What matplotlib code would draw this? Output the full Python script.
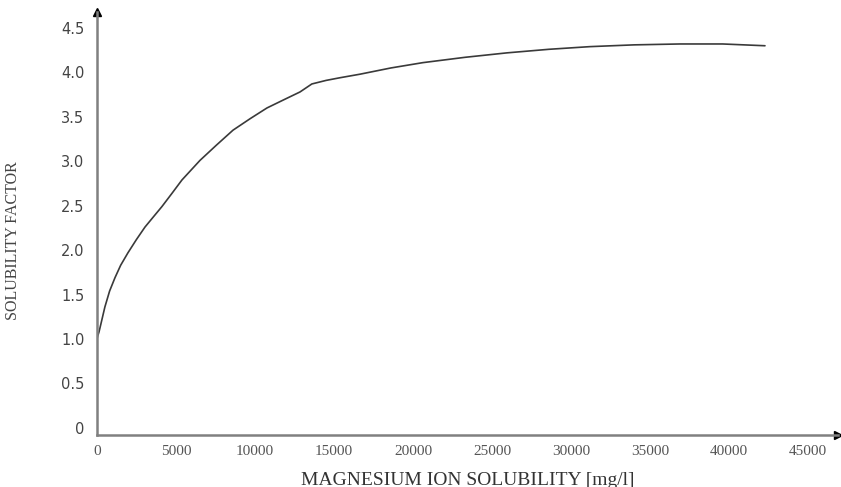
import matplotlib
matplotlib.use("Agg")
import matplotlib.pyplot as plt  # noqa: E402
from matplotlib.ticker import FixedLocator, FixedFormatter  # noqa: E402

# magnesium ion solubility [mg/l] vs solubility factor
mg_ion = [0, 60, 130, 250, 500, 800, 1140, 1500, 1960, 2500, 3040, 3550,
          4110, 4750, 5380, 5950, 6520, 7550, 8610, 9700, 10760, 11800,
          12850, 13600, 14500, 15380, 16650, 18600, 20630, 23300, 25950,
          28600, 31200, 34000, 36900, 39600, 42280]
factor = [1.00, 1.04, 1.08, 1.17, 1.36, 1.54, 1.69, 1.83, 1.97, 2.12, 2.26,
          2.37, 2.49, 2.64, 2.79, 2.90, 3.01, 3.18, 3.35, 3.48, 3.60, 3.69,
          3.78, 3.87, 3.91, 3.94, 3.98, 4.05, 4.11, 4.17, 4.22, 4.26, 4.29,
          4.31, 4.32, 4.32, 4.30]

x_ticks = [0, 5000, 10000, 15000, 20000, 25000, 30000, 35000, 40000, 45000]
y_ticks = [0, 0.5, 1.0, 1.5, 2.0, 2.5, 3.0, 3.5, 4.0, 4.5]
y_tick_labels = ["0", "0.5", "1.0", "1.5", "2.0", "2.5", "3.0", "3.5", "4.0", "4.5"]

fig = plt.figure(figsize=(8.41, 4.87), dpi=100)
ax = fig.add_axes([0.1153, 0.1068, 0.8811, 0.8686])

ax.plot(mg_ion, factor, color="#3a3a3a", lw=1.2,
        solid_joinstyle="round", solid_capstyle="round")

ax.set_xlim(0, 46900)
ax.set_ylim(-0.08, 4.68)

for side in ("top", "right"):
    ax.spines[side].set_visible(False)
for side in ("left", "bottom"):
    ax.spines[side].set_color("#808080")
    ax.spines[side].set_linewidth(1.8)

# arrow heads at the ends of both axes
ax.plot(1, 0, ">", color="black", ms=6, transform=ax.transAxes, clip_on=False)
ax.plot(0, 1, "^", color="black", ms=6, transform=ax.transAxes, clip_on=False)

ax.xaxis.set_major_locator(FixedLocator(x_ticks))
ax.yaxis.set_major_locator(FixedLocator(y_ticks))
ax.yaxis.set_major_formatter(FixedFormatter(y_tick_labels))
ax.tick_params(axis="both", length=0)
ax.tick_params(axis="y", pad=9, labelcolor="#444444")
ax.tick_params(axis="x", pad=7, labelcolor="#555555")
for lbl in ax.get_yticklabels():
    lbl.set_family("DejaVu Sans")
    lbl.set_fontsize(10.5)
for lbl in ax.get_xticklabels():
    lbl.set_family("Liberation Serif")
    lbl.set_fontsize(11)

ax.set_xlabel("MAGNESIUM ION SOLUBILITY [mg/l]", family="Liberation Serif",
              fontsize=14, color="#333333", labelpad=10)
ax.set_ylabel("SOLUBILITY FACTOR", family="Liberation Serif",
              fontsize=11.5, color="#444444")
ax.yaxis.set_label_coords(-0.102, 0.459)

fig.savefig("out.png", dpi=100)
plt.close(fig)
